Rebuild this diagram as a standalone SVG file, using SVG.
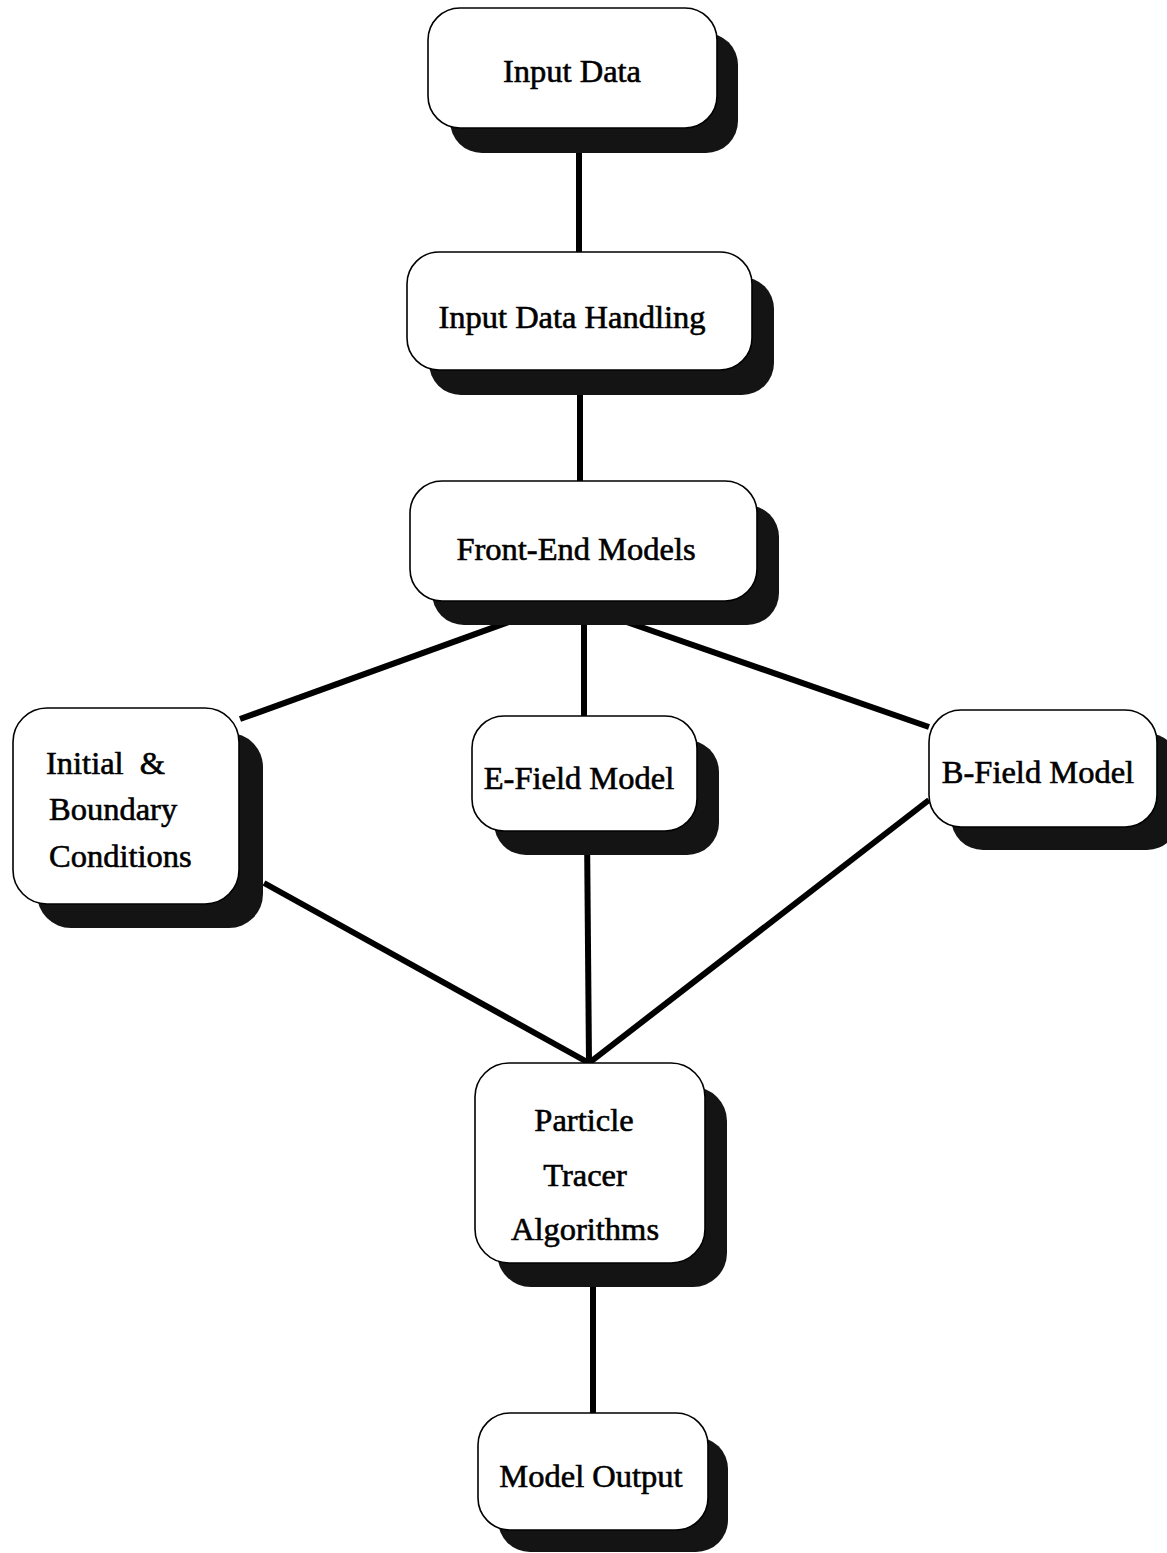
<svg xmlns="http://www.w3.org/2000/svg" width="1167" height="1553" viewBox="0 0 1167 1553">
<style>
.box{fill:#fff;stroke:#000;stroke-width:1.6}
.sh{fill:#141414}
.t{font-family:"Liberation Serif","Times New Roman",serif;font-size:32.5px;fill:#000;stroke:#000;stroke-width:0.6;text-anchor:middle}
.tl{text-anchor:start}
.c{stroke:#000;stroke-width:6;fill:none;stroke-linecap:butt}
</style>
<rect width="1167" height="1553" fill="#fff"/>
<g id="connectors">
<line class="c" x1="579" y1="128" x2="579" y2="252"/>
<line class="c" x1="580" y1="370" x2="580" y2="481"/>
<line class="c" x1="528" y1="615" x2="240" y2="719"/>
<line class="c" x1="584" y1="600" x2="584" y2="717"/>
<line class="c" x1="618" y1="619" x2="929" y2="727"/>
<line class="c" x1="264" y1="883" x2="589" y2="1063"/>
<line class="c" x1="587" y1="830" x2="589" y2="1063"/>
<line class="c" x1="929" y1="800" x2="589" y2="1063"/>
<line class="c" x1="593" y1="1287" x2="593" y2="1413"/>
</g>
<g id="n-input">
<rect class="sh" x="450" y="33" width="288" height="120" rx="32"/>
<rect class="box" x="428" y="8" width="289" height="120" rx="32"/>
<text class="t" x="572" y="82">Input Data</text>
</g>
<g id="n-handling">
<rect class="sh" x="429" y="277" width="345" height="118" rx="32"/>
<rect class="box" x="407" y="252" width="345" height="118" rx="32"/>
<text class="t" x="572" y="328">Input Data Handling</text>
</g>
<g id="n-frontend">
<rect class="sh" x="432" y="505" width="347" height="120" rx="32"/>
<rect class="box" x="410" y="481" width="347" height="120" rx="32"/>
<text class="t" x="576" y="560">Front-End Models</text>
</g>
<g id="n-initial">
<rect class="sh" x="37" y="733" width="226" height="195" rx="34"/>
<rect class="box" x="13" y="708" width="226" height="196" rx="34"/>
<text class="t tl" x="46" y="774">Initial&#160; &amp;</text>
<text class="t tl" x="49" y="820">Boundary</text>
<text class="t tl" x="49" y="867">Conditions</text>
</g>
<g id="n-efield">
<rect class="sh" x="494" y="740" width="225" height="115" rx="32"/>
<rect class="box" x="472" y="716" width="225" height="115" rx="32"/>
<text class="t" x="579" y="789">E-Field Model</text>
</g>
<g id="n-bfield">
<rect class="sh" x="951" y="733" width="228" height="117" rx="32"/>
<rect class="box" x="929" y="710" width="228" height="117" rx="32"/>
<text class="t" x="1038" y="783">B-Field Model</text>
</g>
<g id="n-particle">
<rect class="sh" x="497" y="1087" width="230" height="200" rx="34"/>
<rect class="box" x="475" y="1063" width="230" height="200" rx="34"/>
<text class="t" x="584" y="1131">Particle</text>
<text class="t" x="585" y="1186">Tracer</text>
<text class="t" x="585" y="1240">Algorithms</text>
</g>
<g id="n-output">
<rect class="sh" x="498" y="1437" width="230" height="115" rx="32"/>
<rect class="box" x="478" y="1413" width="230" height="117" rx="32"/>
<text class="t" x="591" y="1487">Model Output</text>
</g>
</svg>
